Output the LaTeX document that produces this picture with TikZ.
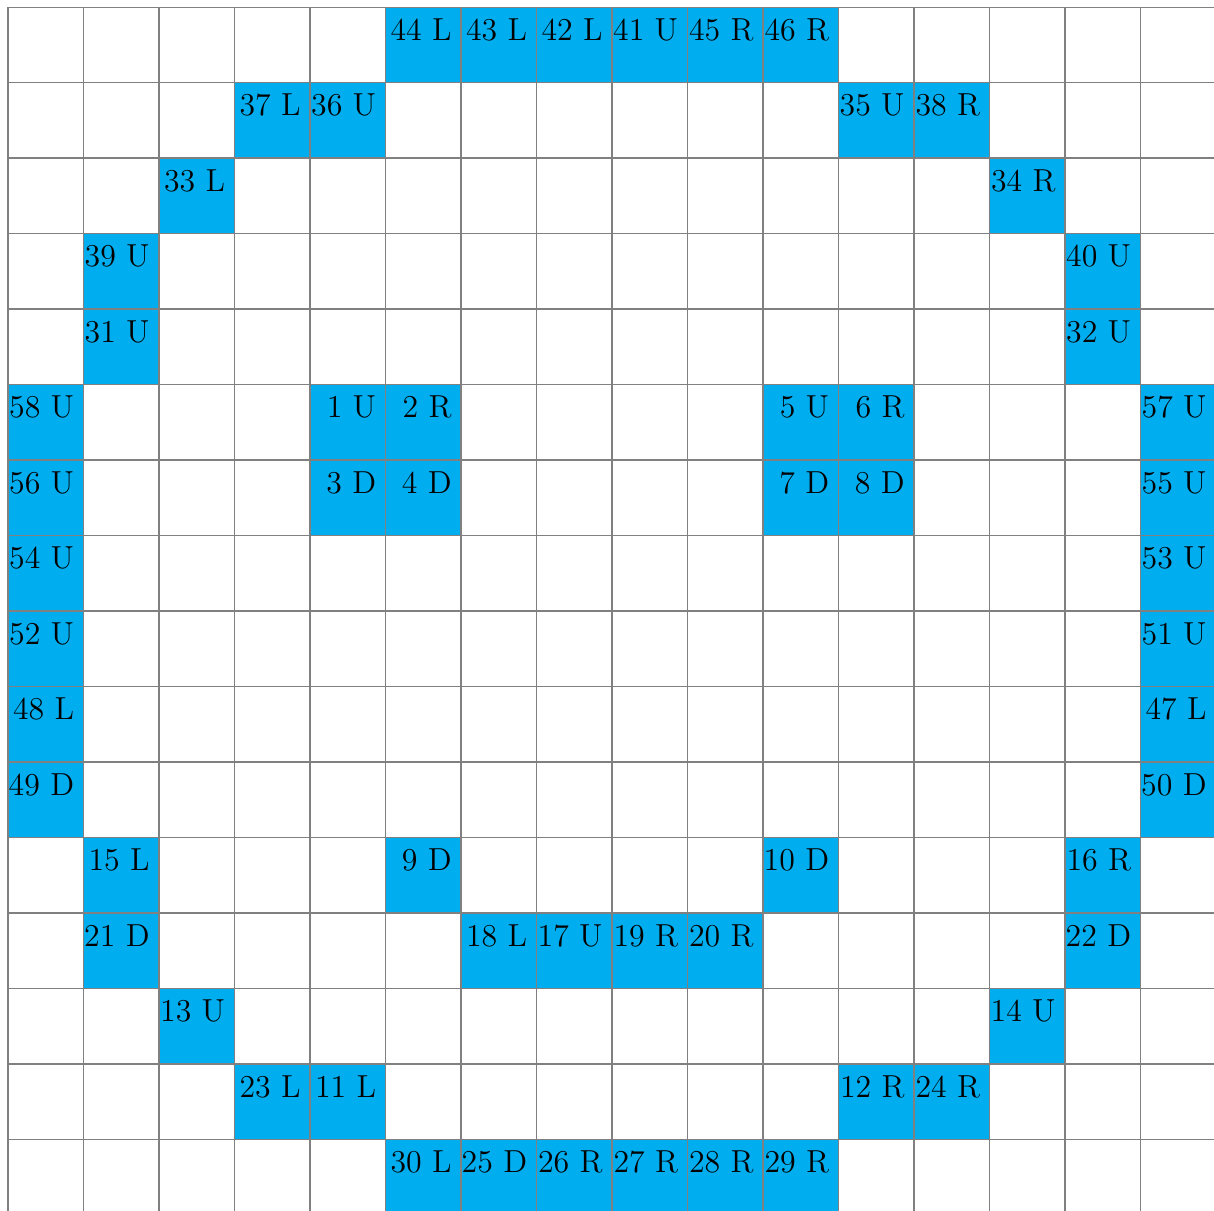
\documentclass[tikz,border=0pt]{standalone}
\usepackage{tikz}
\tikzset{
  cellFill/.style={fill=cyan},
  cellText/.style={anchor=north east, font=\large, yshift=-0.8pt},
  gridLine/.style={draw=gray, thin},
}
%% column/row/label of every coloured cell (row 0 at the top)
\newcommand{\cellList}{%
  5/0/44 L, 6/0/43 L, 7/0/42 L, 8/0/41 U, 9/0/45 R, 10/0/46 R,
  3/1/37 L, 4/1/36 U, 11/1/35 U, 12/1/38 R,
  2/2/33 L, 13/2/34 R,
  1/3/39 U, 14/3/40 U,
  1/4/31 U, 14/4/32 U,
  0/5/58 U, 4/5/1 U, 5/5/2 R, 10/5/5 U, 11/5/6 R, 15/5/57 U,
  0/6/56 U, 4/6/3 D, 5/6/4 D, 10/6/7 D, 11/6/8 D, 15/6/55 U,
  0/7/54 U, 15/7/53 U,
  0/8/52 U, 15/8/51 U,
  0/9/48 L, 15/9/47 L,
  0/10/49 D, 15/10/50 D,
  1/11/15 L, 5/11/9 D, 10/11/10 D, 14/11/16 R,
  1/12/21 D, 6/12/18 L, 7/12/17 U, 8/12/19 R, 9/12/20 R, 14/12/22 D,
  2/13/13 U, 13/13/14 U,
  3/14/23 L, 4/14/11 L, 11/14/12 R, 12/14/24 R,
  5/15/30 L, 6/15/25 D, 7/15/26 R, 8/15/27 R, 9/15/28 R, 10/15/29 R}

\begin{document}
\begin{tikzpicture}
    \useasboundingbox (-0.106,0.093) rectangle (15.974,-15.947);

    %% coloured cells
    \foreach \c/\r/\t in \cellList {
      \fill[cellFill] (\c,-\r) rectangle ++(1,-1);
    }

    %% grid
    \draw[gridLine] (0,-16) grid (16,0);

    %% labels
    \foreach \c/\r/\t in \cellList {
      \node[cellText] (cell\c-\r) at (\c+1,-\r) {\t};
    }
\end{tikzpicture}
\end{document}
